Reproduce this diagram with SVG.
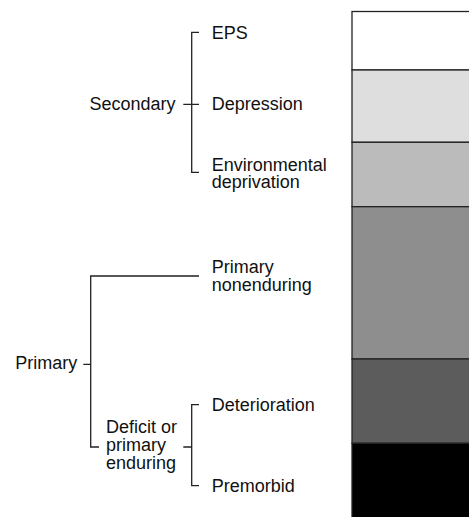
<svg xmlns="http://www.w3.org/2000/svg" width="469" height="517" viewBox="0 0 469 517">
<style>
text{font-family:"Liberation Sans",Arial,sans-serif;font-size:18px;fill:#111}
.c{fill:none;stroke:#222;stroke-width:1.3}
.b{stroke:#222;stroke-width:1.3}
</style>
<rect width="469" height="517" fill="#fff"/>
<g id="bar">
<rect class="b" x="352" y="11.5" width="120" height="58.5" fill="#ffffff"/>
<rect class="b" x="352" y="70" width="120" height="72.3" fill="#dedede"/>
<rect class="b" x="352" y="142.3" width="120" height="64.4" fill="#bbbbbb"/>
<rect class="b" x="352" y="206.7" width="120" height="152.3" fill="#8e8e8e"/>
<rect class="b" x="352" y="359" width="120" height="84.3" fill="#5c5c5c"/>
<rect class="b" x="352" y="443.3" width="120" height="80" fill="#000000"/>
</g>
<g id="connectors">
<path class="c" d="M199,32.3 H191.7 V172.3 H199 M183.3,104.3 H199"/>
<path class="c" d="M199,276 H90.7 V447 H99 M83.3,364.3 H90.7"/>
<path class="c" d="M199,404.7 H191.7 V485.7 H199 M183.3,447 H191.7"/>
</g>
<g id="secondary"><text x="175.5" y="110.3" text-anchor="end">Secondary</text></g>
<g id="eps"><text x="211.7" y="39">EPS</text></g>
<g id="depression"><text x="211.7" y="110.3">Depression</text></g>
<g id="environmental"><text x="211.7" y="170.7">Environmental<tspan x="211.7" dy="17">deprivation</tspan></text></g>
<g id="primary"><text x="77.3" y="369.3" text-anchor="end">Primary</text></g>
<g id="nonenduring"><text x="211.7" y="272.7">Primary<tspan x="211.7" dy="18.3">nonenduring</tspan></text></g>
<g id="deficit"><text x="106" y="432.7">Deficit or<tspan x="106" dy="18">primary</tspan><tspan x="106" dy="18">enduring</tspan></text></g>
<g id="deterioration"><text x="211.7" y="410.7">Deterioration</text></g>
<g id="premorbid"><text x="211.7" y="491.7">Premorbid</text></g>
</svg>
